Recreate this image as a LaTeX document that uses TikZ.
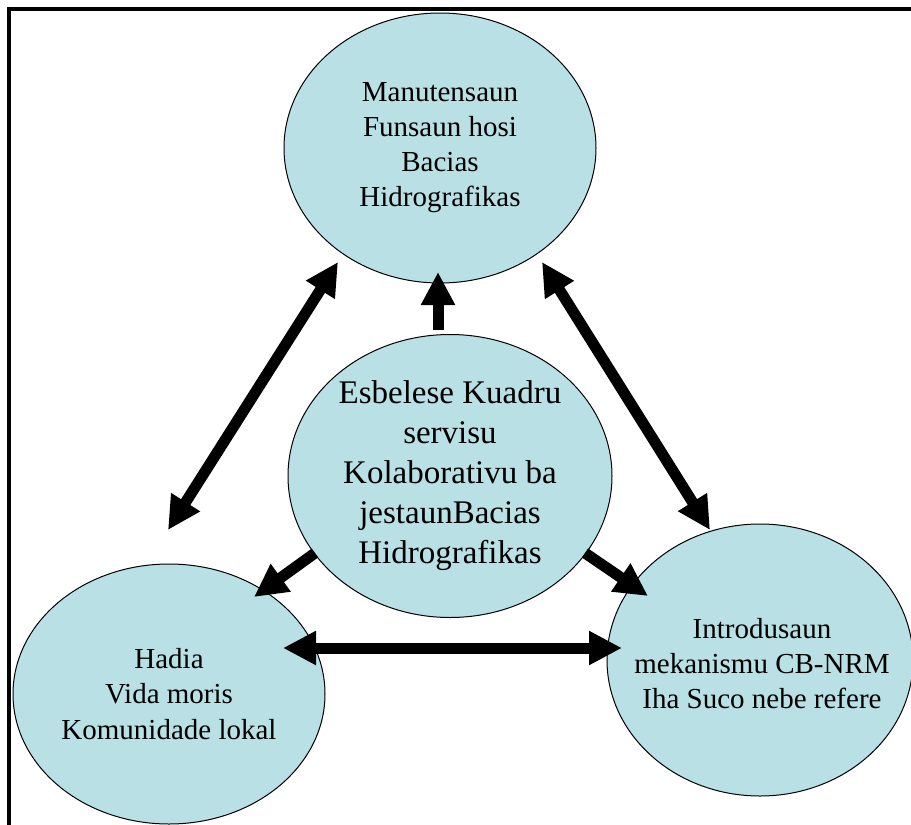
\documentclass[tikz,border=0pt]{standalone}
\usepackage{fontspec}
\setmainfont{Liberation Serif}
\usetikzlibrary{shapes.geometric,arrows.meta}
\definecolor{bubble}{RGB}{185,224,228}
\tikzset{
  bubblebox/.style={ellipse, draw=black, line width=1pt, fill=bubble, inner sep=0pt},
  bubbletext/.style={align=center, text=black, inner sep=0pt},
  bigarrow/.style={line width=11pt, -{Triangle[length=33pt,width=32pt]}},
  dblarrow/.style={line width=11pt, {Triangle[length=33pt,width=32pt]}-{Triangle[length=33pt,width=32pt]}},
}
\begin{document}
\begin{tikzpicture}[x=1pt,y=-1pt]
\useasboundingbox (0,0) rectangle (911,825);
\clip (0,0) rectangle (911,825);
\fill[white] (0,0) rectangle (911,825);
\draw[line width=4.5pt] (930,9) -- (9,9) -- (9,850);

\node[bubblebox, minimum width=312pt, minimum height=270pt] (top) at (440,148) {};
\node[bubbletext, font=\fontsize{29}{35}\selectfont] (topT) at (top.center)
  {Manutensaun\\Funsaun hosi\\Bacias\\Hidrografikas};
\node[bubblebox, minimum width=324pt, minimum height=283pt] (mid) at (450,476) {};
\node[bubbletext, font=\fontsize{33}{40}\selectfont] (midT) at (mid.center)
  {Esbelese Kuadru\\servisu\\Kolaborativu ba\\jestaunBacias\\Hidrografikas};
\node[bubblebox, minimum width=312pt, minimum height=260pt] (left) at (169,694) {};
\node[bubbletext, font=\fontsize{29}{35.5}\selectfont] (leftT) at (left.center)
  {Hadia\\Vida moris\\Komunidade lokal};
\node[bubblebox, minimum width=306pt, minimum height=272pt] (right) at (760,660) {};
\node[bubbletext, font=\fontsize{29}{35}\selectfont] (rightT) at (762,664)
  {Introdusaun\\mekanismu CB-NRM\\Iha Suco nebe refere};

\coordinate (upA) at (438,330);
\coordinate (upB) at (438,272);
\coordinate (dlA) at (338,262);
\coordinate (dlB) at (168,530);
\coordinate (drA) at (542,262);
\coordinate (drB) at (710,530);
\coordinate (mlA) at (315,553);
\coordinate (mlB) at (254,597);
\coordinate (mrA) at (585,553);
\coordinate (mrB) at (648,596);
\coordinate (hA) at (283,648);
\coordinate (hB) at (622,648);

\draw[bigarrow] (upA) -- (upB);
\draw[dblarrow] (dlA) -- (dlB);
\draw[dblarrow] (drA) -- (drB);
\draw[bigarrow] (mlA) -- (mlB);
\draw[bigarrow] (mrA) -- (mrB);
\draw[dblarrow] (hA) -- (hB);
\end{tikzpicture}
\end{document}
